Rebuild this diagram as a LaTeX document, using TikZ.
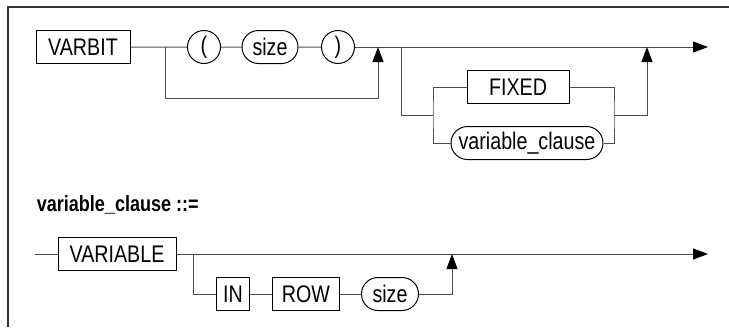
\documentclass[tikz,border=0pt]{standalone}
\usepackage{fontspec}
\setmainfont{Liberation Sans}[FakeStretch=0.82]
\usetikzlibrary{arrows.meta,shapes.misc}

\begin{document}
\begin{tikzpicture}[x=1pt, y=-1pt, line width=1pt, font=\fontsize{24}{28}\selectfont,
  rail/.style={draw=black!70},
  keybox/.style={draw, rectangle, minimum height=33pt, inner sep=0pt},
  termbox/.style={draw, rounded rectangle, minimum height=33pt, inner sep=0pt},
  charbox/.style={draw, circle, minimum size=33pt, inner sep=0pt},
  endtip/.style={-{Triangle[length=15pt,width=11pt,black]}}]
	\useasboundingbox (0,0) rectangle (729,327);
	\draw[black!80, line width=1.5pt] (729,7) -| (8,327);
	\node[keybox, minimum width=94pt] (varbit) at (83,47) {VARBIT};
	\node[charbox] (lpar) at (204,47) {(};
	\node[termbox, minimum width=56pt] (size) at (270,47) {size};
	\node[charbox] (rpar) at (338,47) {)};
	\node[keybox, minimum width=102pt] (fixed) at (518,87) {FIXED};
	\node[termbox, minimum width=152pt] (varcl) at (527,143) {variable\_clause};
	\coordinate (split1) at (165,47);
	\coordinate (bypass1) at (378,98);
	\coordinate (join1) at (378,47);
	\coordinate (split2) at (401,47);
	\coordinate (fork) at (433,115);
	\coordinate (merge) at (614,115);
	\coordinate (join2) at (647,47);
	\coordinate (end1) at (708,47);
	\draw[rail] (varbit) -- (lpar) -- (size) -- (rpar);
	\draw[rail, endtip] (rpar) -- (end1);
	\draw[rail, endtip] (split1) |- (bypass1) -- (join1);
	\draw[rail] (split2) |- (fork);
	\draw[rail] (fixed.west) -| (fork) |- (varcl.west);
	\draw[rail] (fixed.east) -| (merge) |- (varcl.east);
	\draw[rail, endtip] (merge) -| (join2);
	\node[anchor=west, font=\fontsize{22}{26}\selectfont\bfseries] (title) at (33,205) {variable\_clause ::=};
	\coordinate (start2) at (35,254);
	\node[keybox, minimum width=118pt] (variable) at (117,254) {VARIABLE};
	\node[keybox, minimum width=33pt] (in) at (233,294) {IN};
	\node[keybox, minimum width=67pt] (row) at (306,294) {ROW};
	\node[termbox, minimum width=57pt] (size2) at (390,294) {size};
	\coordinate (split3) at (193,254);
	\coordinate (join3) at (452,254);
	\coordinate (end2) at (708,254);
	\draw[rail] (start2) -- (variable);
	\draw[rail, endtip] (variable) -- (end2);
	\draw[rail] (split3) |- (in);
	\draw[rail] (in) -- (row) -- (size2);
	\draw[rail, endtip] (size2) -| (join3);
\end{tikzpicture}
\end{document}
